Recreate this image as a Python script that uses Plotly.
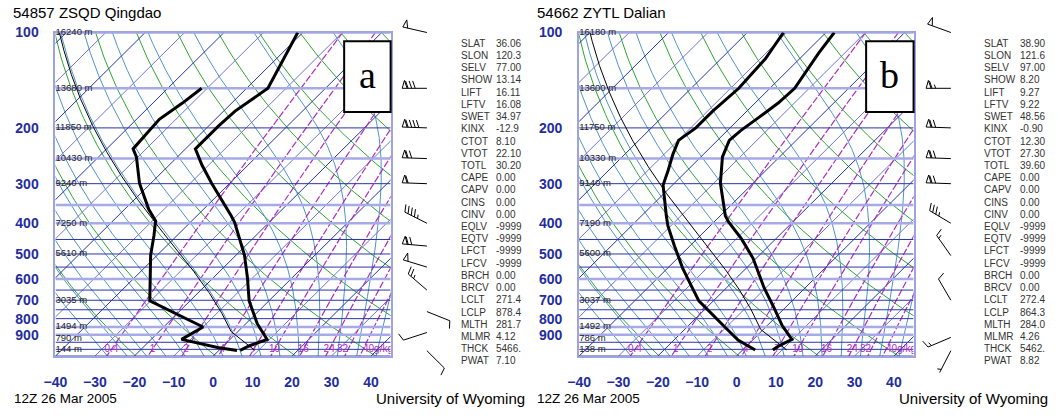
import numpy as np
import plotly.graph_objects as go

# page geometry (browser window 1058x417; default body margin of 8px shifts the figure)
PAGE_W, PAGE_H = 1058, 417
OFF = 8
W, H = PAGE_W - OFF, PAGE_H - OFF
P_TOP, P_BOT = 100.0, 1050.0
T_MIN, T_MAX = -40.0, 45.0
TOP_PX, BOT_PX = 33.0, 363.0
A_L, A_R = 52.0, 391.0
B_L, B_R = 581.7, 920.0

# ---------------- data ----------------
a_T_p = [1008, 976, 930, 830, 703, 595, 504, 397, 379, 299, 262, 233, 197, 177, 150, 100]
a_T = [5.4, 6.5, 9.4, 2.9, -5.0, -11.3, -17.9, -28.8, -31.3, -44.6, -51.7, -57.5, -57.5, -57.1, -54.6, -61.3]
a_Td_p = [1008, 986, 930, 850, 703, 595, 504, 438, 393, 362, 299, 247, 233, 188, 167, 150]
a_Td = [4.6, -1.1, -12.3, -10.0, -30.2, -36.0, -41.7, -45.8, -49.2, -53.8, -62.9, -70.4, -73.3, -74.2, -72.5, -71.4]

b_T_p = [1005, 981, 930, 841, 738, 640, 516, 448, 397, 379, 299, 247, 219, 204, 186, 167, 150, 116, 100]
b_T = [7.7, 8.0, 9.8, 3.8, -2.9, -10.4, -20.8, -28.7, -36.2, -38.7, -48.3, -54.5, -57.0, -56.6, -55.4, -54.1, -53.7, -56.6, -57.9]
b_Td_p = [1005, 935, 850, 774, 703, 625, 554, 470, 407, 379, 303, 272, 242, 219, 200, 177, 150, 121, 100]
b_Td = [3.2, -3.7, -10.4, -17.0, -23.7, -29.9, -36.2, -44.1, -50.8, -53.7, -62.4, -64.9, -67.8, -69.9, -68.7, -68.7, -67.9, -68.7, -70.8]

a_lcl_p, a_lcl_t = 878.4, 271.4
b_lcl_p, b_lcl_t = 864.3, 272.4

a_wind_p = [100, 150, 200, 250, 300, 400, 472, 550, 650, 760, 885, 1010]
a_wind_dir = [283, 270, 272, 272, 272, 297, 275, 287, 311, 112, 252, 135]
a_wind_spd = [50, 80, 90, 70, 60, 45, 70, 50, 25, 10, 10, 10]
b_wind_p = [100, 150, 200, 250, 300, 400, 506, 700, 917, 1010]
b_wind_dir = [290, 270, 272, 272, 272, 301, 325, 330, 247, 207]
b_wind_spd = [50, 65, 70, 70, 70, 35, 15, 10, 15, 5]

height_p = [100, 150, 200, 250, 300, 400, 500, 700, 850, 925, 1000]
a_heights = ["16240 m", "13680 m", "11850 m", "10430 m", "9240 m", "7250 m", "5610 m", "3035 m", "1494 m", "790 m", "144 m"]
b_heights = ["16180 m", "13600 m", "11750 m", "10330 m", "9140 m", "7190 m", "5600 m", "3037 m", "1492 m", "786 m", "138 m"]

stat_names = ["SLAT", "SLON", "SELV", "SHOW", "LIFT", "LFTV", "SWET", "KINX", "CTOT", "VTOT", "TOTL",
              "CAPE", "CAPV", "CINS", "CINV", "EQLV", "EQTV", "LFCT", "LFCV", "BRCH", "BRCV",
              "LCLT", "LCLP", "MLTH", "MLMR", "THCK", "PWAT"]
a_stats = ["36.06", "120.3", "77.00", "13.14", "16.11", "16.08", "34.97", "-12.9", "8.10", "22.10", "30.20",
           "0.00", "0.00", "0.00", "0.00", "-9999", "-9999", "-9999", "-9999", "0.00", "0.00",
           "271.4", "878.4", "281.7", "4.12", "5466.", "7.10"]
b_stats = ["38.90", "121.6", "97.00", "8.20", "9.27", "9.22", "48.56", "-0.90", "12.30", "27.30", "39.60",
           "0.00", "0.00", "0.00", "0.00", "-9999", "-9999", "-9999", "-9999", "0.00", "0.00",
           "272.4", "864.3", "284.0", "4.26", "5462.", "8.82"]

x_ticks = [-40, -30, -20, -10, 0, 10, 20, 30, 40]
p_ticks = [100, 200, 300, 400, 500, 600, 700, 800, 900]
p_grid = list(range(100, 1051, 50))
p_grid_light = [100, 150, 250, 350, 400, 600, 850, 900]
isotherm_T = list(range(-140, 50, 10))
dry_theta = list(range(190, 470, 20))
moist_thw = list(range(-30, 50, 5))
mix_w = [0.4, 1, 2, 4, 7, 10, 16, 24, 32, 40]
mix_lbl = ["0.4", "1", "2", "4", "7", "10", "16", "24", "32", "40g/kg"]
mix_pos = ["middle center"] * 8 + ["middle left", "middle right"]

# ---------------- geometry / thermo helpers ----------------
px_per_ln = (BOT_PX - TOP_PX) / np.log(P_BOT / P_TOP)
px_per_deg = (A_R - A_L) / (T_MAX - T_MIN)
K = px_per_ln / px_per_deg


def fx(x):  # page px -> paper fraction
    return (x - OFF) / W


def fy(y):
    return 1 - (y - OFF) / H


def sx(T, p):
    return np.asarray(T, float) + K * np.log(P_BOT / np.asarray(p, float))


def td_from_w(w, p):
    e = w * p / (622.0 + w)
    l = np.log(e / 6.112)
    return 243.5 * l / (17.67 - l)


def dTdp(T, p):
    Tc = T - 273.15
    es = 6.112 * np.exp(17.67 * Tc / (Tc + 243.5))
    rs = 0.622 * es / (p - es)
    Rd, Lv, Cp = 287.04, 2.501e6, 1005.7
    return (Rd * T + Lv * rs) / (Cp + Lv * Lv * rs * 0.622 / (Rd * T * T)) / p


def moist(T0, p0, p1, n=200):
    ps = np.geomspace(p0, p1, n)
    Ts = [T0]
    T = T0
    for i in range(n - 1):
        h = ps[i + 1] - ps[i]
        p = ps[i]
        k1 = dTdp(T, p)
        k2 = dTdp(T + h * k1 / 2, p + h / 2)
        k3 = dTdp(T + h * k2 / 2, p + h / 2)
        k4 = dTdp(T + h * k3, p + h)
        T = T + h * (k1 + 2 * k2 + 2 * k3 + k4) / 6
        Ts.append(T)
    return ps, np.array(Ts)


def join(segs):
    xs, ys = [], []
    for x, y in segs:
        xs += list(x) + [None]
        ys += list(y) + [None]
    return xs, ys


fig = go.Figure()
FONT = "Liberation Sans"
BLUE_TXT = "#1f2d9e"

p_line = np.geomspace(P_TOP, P_BOT, 80)

for panel, (xa, ya) in enumerate([("x", "y"), ("x2", "y2")]):
    kw = dict(xaxis=xa, yaxis=ya, showlegend=False, hoverinfo="skip")
    # dry adiabats
    segs = []
    for th in dry_theta:
        T = th * (p_line / 1000.0) ** 0.2857 - 273.15
        segs.append((sx(T, p_line), p_line))
    x, y = join(segs)
    fig.add_trace(go.Scatter(x=x, y=y, mode="lines", line=dict(color="#2fa52f", width=1), **kw))
    # moist adiabats
    segs = []
    for tw in moist_thw:
        pu, Tu = moist(tw + 273.15, 1000.0, P_TOP)
        pd, Td_ = moist(tw + 273.15, 1000.0, P_BOT, n=20)
        pp = np.concatenate([pd[::-1], pu[1:]])
        TT = np.concatenate([Td_[::-1], Tu[1:]]) - 273.15
        segs.append((sx(TT, pp), pp))
    x, y = join(segs)
    fig.add_trace(go.Scatter(x=x, y=y, mode="lines", line=dict(color="#4f94c8", width=1), **kw))
    # isotherms
    for parity, col in [(0, "#2435b0"), (1, "#6f75d8")]:
        segs = []
        for T in isotherm_T:
            if (T // 10) % 2 == parity:
                pp = np.array([P_BOT, P_TOP])
                segs.append((sx([T, T], pp), pp))
        x, y = join(segs)
        fig.add_trace(go.Scatter(x=x, y=y, mode="lines", line=dict(color=col, width=1), **kw))
    # mixing ratio
    segs = []
    for w in mix_w:
        segs.append((sx(td_from_w(w, p_line), p_line), p_line))
    x, y = join(segs)
    fig.add_trace(go.Scatter(x=x, y=y, mode="lines",
                             line=dict(color="#b02cc0", width=1.2, dash="7px,2px"), **kw))
    # isobars
    segs_d = [([T_MIN, T_MAX], [p, p]) for p in p_grid if p not in p_grid_light]
    segs_l = [([T_MIN, T_MAX], [p, p]) for p in p_grid_light]
    x, y = join(segs_l)
    fig.add_trace(go.Scatter(x=x, y=y, mode="lines", line=dict(color="#a6aae6", width=2.5), **kw))
    x, y = join(segs_d)
    fig.add_trace(go.Scatter(x=x, y=y, mode="lines", line=dict(color="#2a35a8", width=1), **kw))
    # mixing labels
    fig.add_trace(go.Scatter(x=sx(td_from_w(np.array(mix_w), 1000.0), 1000.0), y=[1000] * len(mix_w),
                             mode="text", text=mix_lbl, textposition=mix_pos,
                             textfont=dict(family=FONT, size=10, color="#b02cc0"), **kw))
    # parcel path
    lcl_p, lcl_t = (a_lcl_p, a_lcl_t) if panel == 0 else (b_lcl_p, b_lcl_t)
    psfc = (a_T_p if panel == 0 else b_T_p)[0]
    theta = lcl_t * (1000.0 / lcl_p) ** 0.2857
    pdry = np.geomspace(psfc, lcl_p, 10)
    Tdry = theta * (pdry / 1000.0) ** 0.2857 - 273.15
    pm, Tm = moist(lcl_t, lcl_p, P_TOP)
    pp = np.concatenate([pdry, pm[1:]])
    TT = np.concatenate([Tdry, Tm[1:] - 273.15])
    fig.add_trace(go.Scatter(x=sx(TT, pp), y=pp, mode="lines", line=dict(color="black", width=1), **kw))
    # sounding
    Tp, T, Dp, D = (a_T_p, a_T, a_Td_p, a_Td) if panel == 0 else (b_T_p, b_T, b_Td_p, b_Td)
    fig.add_trace(go.Scatter(x=sx(T, Tp), y=Tp, mode="lines", line=dict(color="black", width=3), **kw))
    fig.add_trace(go.Scatter(x=sx(D, Dp), y=Dp, mode="lines", line=dict(color="black", width=3), **kw))
    # height labels
    fig.add_trace(go.Scatter(x=[T_MIN] * len(height_p), y=height_p, mode="text",
                             text=a_heights if panel == 0 else b_heights, textposition="middle right",
                             textfont=dict(family=FONT, size=9.5, color="#222"), cliponaxis=False, **kw))

# ---------------- wind barbs ----------------
s_log = (np.log10(P_BOT) - np.log10(P_TOP)) / (BOT_PX - TOP_PX)  # log10 units per pixel


def barb_segments(x0, p0, ddeg, spd, L=25.0, fl=8.0, gap=3.6, pw=5.0):
    d = np.radians(ddeg)
    u = np.array([np.sin(d), np.cos(d)])
    perp = np.array([u[1], -u[0]])
    lean = 0.35
    fvec = fl * (perp + lean * u) / np.hypot(1, lean)
    segs = [[np.zeros(2), L * u]]
    s = spd
    pos = L
    n50 = int(s // 50); s -= 50 * n50
    n10 = int(s // 10); s -= 10 * n10
    n5 = int(round(s / 5))
    for _ in range(n50):
        a = pos * u
        c = (pos - pw) * u
        b = (pos - 0.45 * pw) * u + fl * perp
        segs.append([a, b, c])
        pos -= pw + 1
    if n50 == 0 and n10 == 0:
        pos -= gap
    for _ in range(n10):
        a = pos * u
        segs.append([a, a + fvec])
        pos -= gap
    for _ in range(n5):
        a = pos * u
        segs.append([a, a + 0.5 * fvec])
    out = []
    for sg in segs:
        xs = [x0 + q[0] for q in sg]
        ys = [p0 * 10 ** (-q[1] * s_log) for q in sg]
        out.append((xs, ys))
    return out


segs = []
for x0, ps, ds, ss in [(427.7, a_wind_p, a_wind_dir, a_wind_spd), (957.7, b_wind_p, b_wind_dir, b_wind_spd)]:
    for p0, d0, s0 in zip(ps, ds, ss):
        segs += barb_segments(x0, p0, d0, s0)
bx, by = join(segs)
fig.add_trace(go.Scatter(x=bx, y=by, xaxis="x3", yaxis="y3", mode="lines",
                         line=dict(color="black", width=1), showlegend=False, hoverinfo="skip"))

# ---------------- layout ----------------
ydom = [fy(BOT_PX), fy(TOP_PX)]
frame = dict(showline=True, linecolor="#9ea3e4", linewidth=2, mirror=True, showgrid=False,
             zeroline=False, layer="below traces")
tickf = dict(family=FONT, size=14, color=BLUE_TXT, weight="bold")
xax = dict(range=[T_MIN, T_MAX], tickmode="array", tickvals=x_ticks, ticks="", tickfont=tickf,
           ticklabelstandoff=12, **frame)
yax = dict(type="log", range=[np.log10(P_BOT), np.log10(P_TOP)], domain=ydom, tickmode="array",
           tickvals=p_ticks, ticktext=[str(v) for v in p_ticks], ticks="", tickfont=tickf,
           ticklabelstandoff=12, **frame)
y3_lo = np.log10(P_BOT) + (PAGE_H - BOT_PX) * s_log
y3_hi = np.log10(P_TOP) - (TOP_PX - OFF) * s_log
fig.update_layout(
    width=W, height=H, autosize=False, margin=dict(l=0, r=0, t=0, b=0),
    paper_bgcolor="white", plot_bgcolor="rgba(0,0,0,0)",
    xaxis=dict(domain=[fx(A_L), fx(A_R)], anchor="y", **xax),
    yaxis=dict(anchor="x", **yax),
    xaxis2=dict(domain=[fx(B_L), fx(B_R)], anchor="y2", **xax),
    yaxis2=dict(anchor="x2", **yax),
    xaxis3=dict(domain=[0, 1], range=[OFF, PAGE_W], anchor="y3", visible=False),
    yaxis3=dict(domain=[0, 1], type="log", range=[y3_lo, y3_hi], anchor="x3", visible=False),
)

ann = []
def txt(x, y, t, size, xanchor="left", color="black", family=FONT):
    ann.append(dict(x=fx(x), y=fy(y), xref="paper", yref="paper", text=t, showarrow=False,
                    xanchor=xanchor, yanchor="middle", font=dict(family=family, size=size, color=color)))

txt(7, 13, "54857 ZSQD Qingdao", 15)
txt(537, 13, "54662 ZYTL Dalian", 15)
txt(8, 406, "12Z 26 Mar 2005", 13.5)
txt(537, 406, "12Z 26 Mar 2005", 13.5)
txt(529, 406, "University of Wyoming", 15, xanchor="right")
txt(1058, 406, "University of Wyoming", 15, xanchor="right")

for i, (nm, va, vb) in enumerate(zip(stat_names, a_stats, b_stats)):
    yy = 44 + i * (368 - 44) / (len(stat_names) - 1)
    txt(460, yy, nm, 10, color="#333")
    txt(496, yy, va, 10, color="#333")
    txt(989, yy, nm, 10, color="#333")
    txt(1026, yy, vb, 10, color="#333")

shapes = []
for (x0, x1, lab) in [(344, 391, "a"), (872, 920, "b")]:
    shapes.append(dict(type="rect", xref="paper", yref="paper", x0=fx(x0), x1=fx(x1),
                       y0=fy(114), y1=fy(42), line=dict(color="black", width=2),
                       fillcolor="white", layer="above"))
    ann.append(dict(x=fx((x0 + x1) / 2), y=fy(76), xref="paper", yref="paper", text=lab,
                    showarrow=False, xanchor="center", yanchor="middle",
                    font=dict(family="Liberation Serif", size=38, color="black")))

fig.update_layout(annotations=ann, shapes=shapes)
fig.write_html("out.html")
